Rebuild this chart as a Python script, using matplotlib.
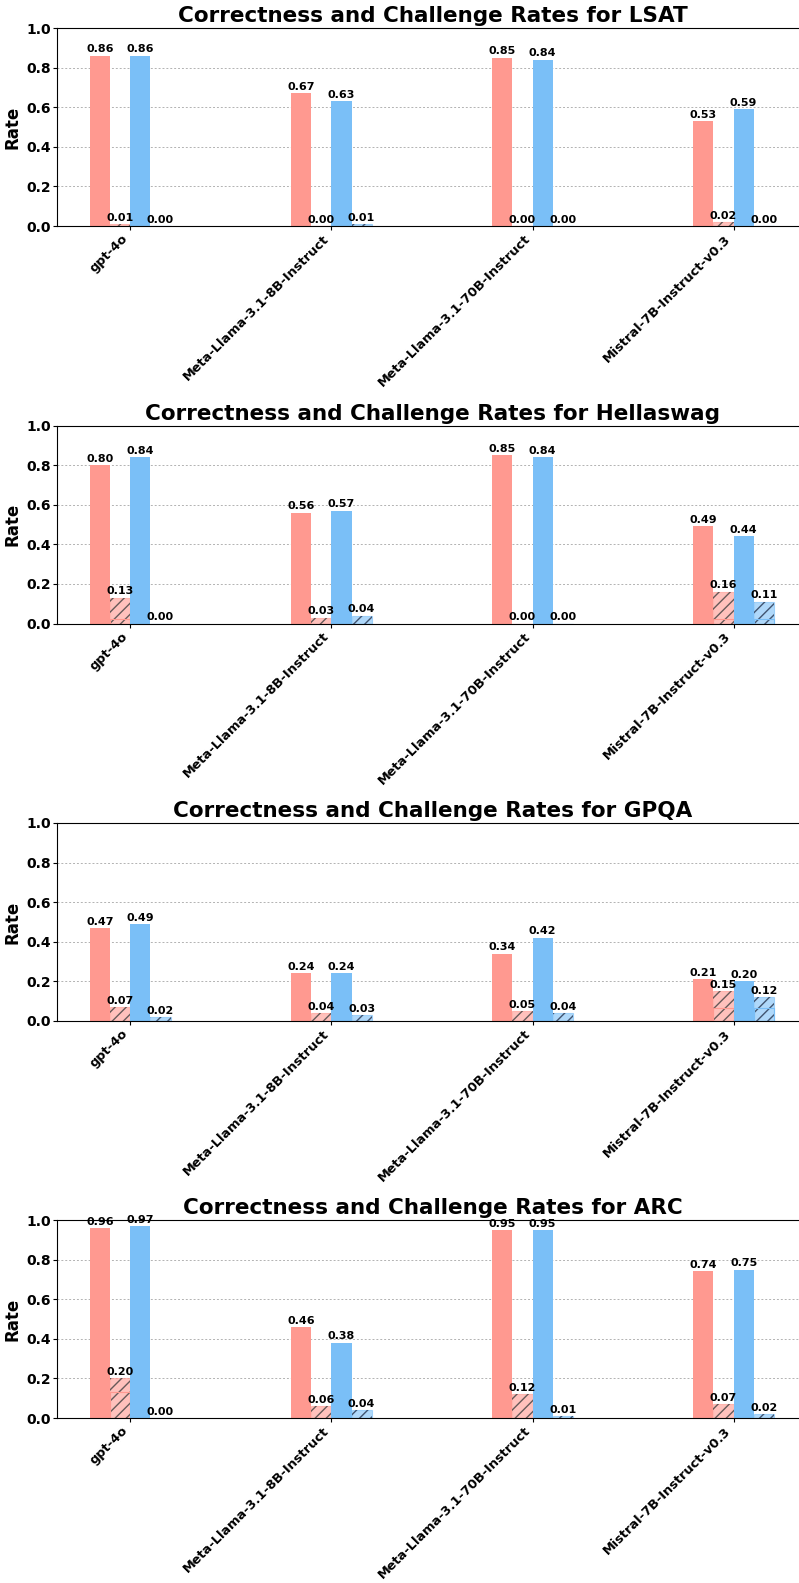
import matplotlib
matplotlib.use("Agg")
import matplotlib.pyplot as plt
import numpy as np

models = ["gpt-4o", "Meta-Llama-3.1-8B-Instruct", "Meta-Llama-3.1-70B-Instruct", "Mistral-7B-Instruct-v0.3"]
datasets = ["LSAT", "Hellaswag", "GPQA", "ARC"]

# per dataset: [red correctness, red challenge, blue correctness, blue challenge]
lsat_red_corr = [0.86, 0.67, 0.85, 0.53]
lsat_red_chal = [0.01, 0.00, 0.00, 0.02]
lsat_blue_corr = [0.86, 0.63, 0.84, 0.59]
lsat_blue_chal = [0.00, 0.01, 0.00, 0.00]

hella_red_corr = [0.80, 0.56, 0.85, 0.49]
hella_red_chal = [0.13, 0.03, 0.00, 0.16]
hella_blue_corr = [0.84, 0.57, 0.84, 0.44]
hella_blue_chal = [0.00, 0.04, 0.00, 0.11]

gpqa_red_corr = [0.47, 0.24, 0.34, 0.21]
gpqa_red_chal = [0.07, 0.04, 0.05, 0.15]
gpqa_blue_corr = [0.49, 0.24, 0.42, 0.20]
gpqa_blue_chal = [0.02, 0.03, 0.04, 0.12]

arc_red_corr = [0.96, 0.46, 0.95, 0.74]
arc_red_chal = [0.20, 0.06, 0.12, 0.07]
arc_blue_corr = [0.97, 0.38, 0.95, 0.75]
arc_blue_chal = [0.00, 0.04, 0.01, 0.02]

# faint inner outlines visible inside some hatched bars
hella_red_inner = [0.025, 0.0, 0.0, 0.025]
hella_blue_inner = [0.0, 0.0, 0.0, 0.025]
gpqa_red_inner = [0.0, 0.0, 0.0, 0.066]
gpqa_blue_inner = [0.0, 0.0, 0.0, 0.066]
arc_red_inner = [0.13, 0.0, 0.0, 0.0]
arc_blue_inner = [0.0, 0.0, 0.0, 0.0]
zero4 = [0.0, 0.0, 0.0, 0.0]

all_data = [
    (lsat_red_corr, lsat_red_chal, lsat_blue_corr, lsat_blue_chal, zero4, zero4),
    (hella_red_corr, hella_red_chal, hella_blue_corr, hella_blue_chal, hella_red_inner, hella_blue_inner),
    (gpqa_red_corr, gpqa_red_chal, gpqa_blue_corr, gpqa_blue_chal, gpqa_red_inner, gpqa_blue_inner),
    (arc_red_corr, arc_red_chal, arc_blue_corr, arc_blue_chal, arc_red_inner, arc_blue_inner),
]

RED = "#FF9990"
BLUE = "#7ABFF7"

W, H = 799, 1583
fig = plt.figure(figsize=(W / 100, H / 100), dpi=100)

tops = [28, 425.5, 823, 1220]
ax_h = 198
left_px, right_px = 57, 808

x = np.arange(len(models))
bw = 0.1

def label_bars(ax, xs, vals):
    for xi, v in zip(xs, vals):
        ax.annotate(f"{v:.2f}", (xi, v), xytext=(0, 1), textcoords="offset points",
                    ha="center", va="bottom", fontsize=8, fontweight="bold")

for i, (ds, d) in enumerate(zip(datasets, all_data)):
    rc, rch, bc, bch, rin, bin_ = d
    ax = fig.add_axes([left_px / W, 1 - (tops[i] + ax_h) / H, (right_px - left_px) / W, ax_h / H])
    ax.set_axisbelow(True)
    ax.yaxis.grid(True, linestyle=(0, (2, 2)), color="gray", alpha=0.6, linewidth=0.7)

    xr = x - 1.5 * bw
    xrh = x - 0.5 * bw
    xb = x + 0.5 * bw
    xbh = x + 1.5 * bw

    ax.bar(xr, rc, bw, color=RED, linewidth=0)
    ax.bar(xrh, rch, bw, color=RED, alpha=0.6, edgecolor=RED, linewidth=0.8)
    ax.bar(xrh, rch, bw, fill=False, edgecolor=(0.25, 0.25, 0.25, 0.8), hatch="///", linewidth=0)
    ax.bar(xrh, rin, bw, fill=False, edgecolor=RED, linewidth=0.8)

    ax.bar(xb, bc, bw, color=BLUE, linewidth=0)
    ax.bar(xbh, bch, bw, color=BLUE, alpha=0.6, edgecolor=BLUE, linewidth=0.8)
    ax.bar(xbh, bch, bw, fill=False, edgecolor=(0.15, 0.2, 0.3, 0.8), hatch="///", linewidth=0)
    ax.bar(xbh, bin_, bw, fill=False, edgecolor=BLUE, linewidth=0.8)

    label_bars(ax, xr, rc)
    label_bars(ax, xrh, rch)
    label_bars(ax, xb, bc)
    label_bars(ax, xbh, bch)

    ax.set_ylim(0, 1.0)
    ax.set_xlim(-0.365, 3.37)
    ax.set_yticks([0.0, 0.2, 0.4, 0.6, 0.8, 1.0])
    ax.set_yticklabels([f"{t:.1f}" for t in [0.0, 0.2, 0.4, 0.6, 0.8, 1.0]], fontsize=10, fontweight="bold")
    ax.set_xticks(x)
    ax.set_xticklabels(models, rotation=45, ha="right", fontsize=9.3, fontweight="bold")
    ax.set_ylabel("Rate", fontsize=12, fontweight="bold", labelpad=3)
    ax.set_title(f"Correctness and Challenge Rates for {ds}", fontsize=15.5, fontweight="bold", pad=4)
    ax.tick_params(axis="both", length=3, pad=1.5)

fig.savefig("out.png", dpi=100)
